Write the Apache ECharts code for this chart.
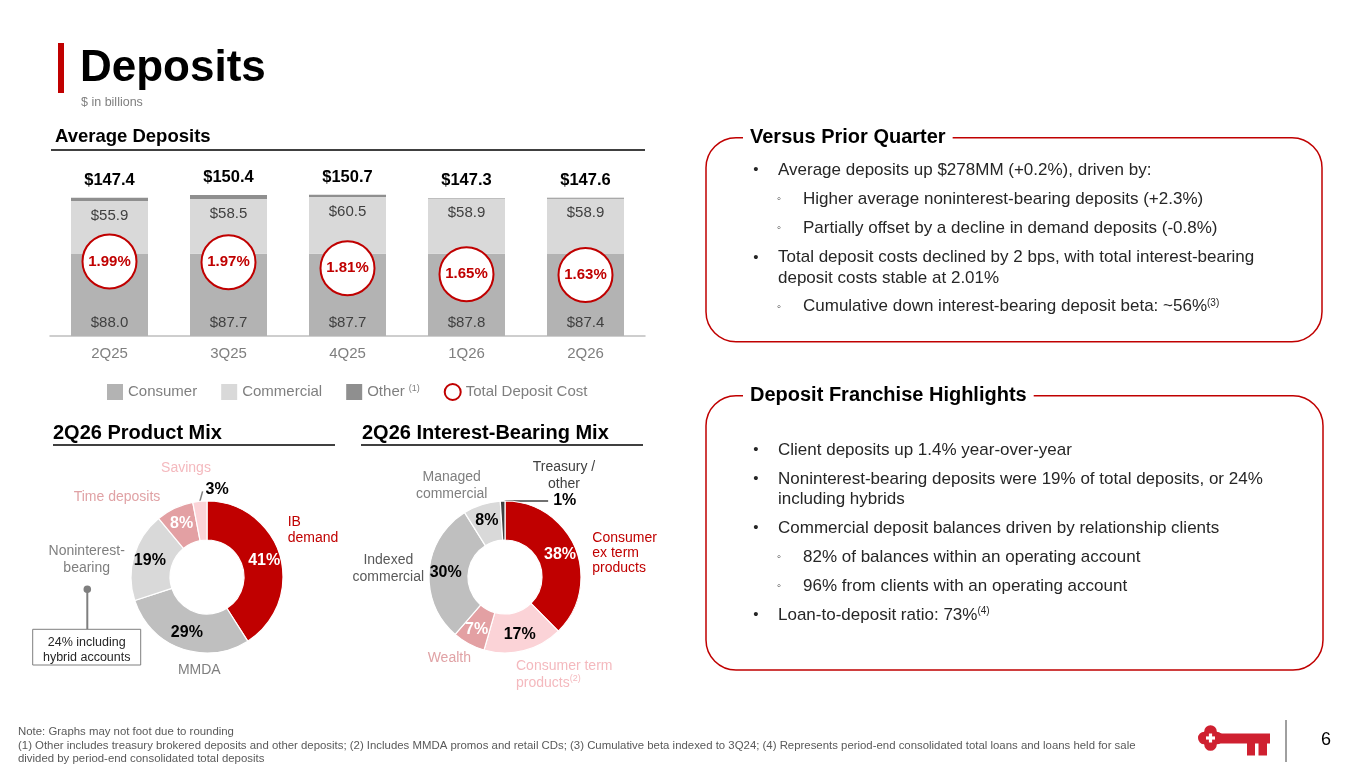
<!DOCTYPE html>
<html><head><meta charset="utf-8">
<script src="https://cdn.jsdelivr.net/npm/echarts@6/dist/echarts.min.js"></script>
<style>html,body{margin:0;padding:0;background:#fff}#c{width:1365px;height:768px}</style>
</head><body><div id="c"></div>
<script>
// ---- data ----
const quarters = ['2Q25', '3Q25', '4Q25', '1Q26', '2Q26'];
const consumer = [88.0, 87.7, 87.7, 87.8, 87.4];
const commercial = [55.9, 58.5, 60.5, 58.9, 58.9];
const other = [3.5, 4.2, 2.5, 0.6, 1.3];
const totals = [147.4, 150.4, 150.7, 147.3, 147.6];
const depositCost = [1.99, 1.97, 1.81, 1.65, 1.63];
const productMixNames = ['IB demand', 'MMDA', 'Noninterest-bearing', 'Time deposits', 'Savings'];
const productMixValues = [41, 29, 19, 8, 3];
const ibMixNames = ['Consumer ex term products', 'Consumer term products', 'Wealth', 'Indexed commercial', 'Managed commercial', 'Treasury / other'];
const ibMixValues = [38, 17, 7, 30, 8, 1];

// ---- styles ----
const F = "'Liberation Sans', Arial, Helvetica, sans-serif";
const RED = '#c00000';
const pmColors = ['#c00000', '#bfbfbf', '#d9d9d9', '#e3a0a3', '#fbd3d7'];
const pmLabel = ['#fff', '#000', '#000', '#fff', '#000'];
const ibColors = ['#c00000', '#fbd3d7', '#e3a0a3', '#bfbfbf', '#d9d9d9', '#404040'];
const ibLabel = ['#fff', '#000', '#fff', '#000', '#000', '#000'];

function pieData(names, values, colors, lbl, outsideIdx, lineColor) {
  return values.map((v, i) => {
    const d = { name: names[i], value: v, itemStyle: { color: colors[i] }, label: { color: lbl[i] } };
    if (i === outsideIdx) {
      d.label = { position: 'outside', color: '#000' };
      d.labelLine = { show: true, length: 12, length2: 0, lineStyle: { color: lineColor, width: 1.5 } };
    }
    return d;
  });
}

function T(x, y, text, o) {
  o = o || {};
  return {
    type: 'text', x: x, y: y, z: o.z || 10,
    style: Object.assign({
      text: text, fontFamily: F, fontSize: o.size || 14, fill: o.color || '#262626',
      fontWeight: o.bold ? 'bold' : 'normal', align: o.align || 'left', verticalAlign: 'middle',
      lineHeight: o.lh, rich: o.rich
    }, o.extra || {})
  };
}
function L(x1, y1, x2, y2, c, w) {
  return { type: 'line', z: 5, shape: { x1, y1, x2, y2 }, style: { stroke: c, lineWidth: w } };
}
function R(x, y, w, h, style, r) {
  return { type: 'rect', z: 5, shape: { x, y, width: w, height: h, r: r || 0 }, style: style };
}
const sup = { s: { fontSize: 10, fontFamily: F, verticalAlign: 'top', lineHeight: 12 } };

const g = [];
// title
g.push(R(58, 43, 6, 50, { fill: RED }));
g.push(T(80, 69, 'Deposits', { size: 44, bold: true, color: '#000' }));
g.push(T(81, 103, '$ in billions', { size: 12.5, color: '#7f7f7f' }));
// section headers
g.push(T(55, 137, 'Average Deposits', { size: 18.5, bold: true, color: '#000' }));
g.push(L(51, 150, 645, 150, '#000', 1.5));
g.push(T(53, 433, '2Q26 Product Mix', { size: 20, bold: true, color: '#000' }));
g.push(L(53, 445, 335, 445, '#000', 1.5));
g.push(T(362, 433, '2Q26 Interest-Bearing Mix', { size: 20, bold: true, color: '#000' }));
g.push(L(361, 445, 643, 445, '#000', 1.5));

// panels
g.push(R(706, 137.7, 616, 204, { fill: 'none', stroke: RED, lineWidth: 1.5 }, 30));
g.push(T(743, 137.7, 'Versus Prior Quarter', { size: 20, bold: true, color: '#000', extra: { backgroundColor: '#fff', padding: [2, 7, 2, 7] } }));
g.push(R(706, 395.7, 617, 274.3, { fill: 'none', stroke: RED, lineWidth: 1.5 }, 30));
g.push(T(743, 395.7, 'Deposit Franchise Highlights', { size: 20, bold: true, color: '#000', extra: { backgroundColor: '#fff', padding: [2, 7, 2, 7] } }));

function bullet(y, text, lvl) {
  if (lvl === 1) {
    g.push(T(756, y, '\u2022', { size: 15, align: 'center' }));
    g.push(T(778, y, text, { size: 17, rich: sup }));
  } else {
    g.push(T(779, y, '\u25E6', { size: 11, align: 'center' }));
    g.push(T(803, y, text, { size: 17, rich: sup }));
  }
}
bullet(170, 'Average deposits up $278MM (+0.2%), driven by:', 1);
bullet(199, 'Higher average noninterest-bearing deposits (+2.3%)', 2);
bullet(228.3, 'Partially offset by a decline in demand deposits (-0.8%)', 2);
bullet(257.7, 'Total deposit costs declined by 2 bps, with total interest-bearing', 1);
g.push(T(778, 278.3, 'deposit costs stable at 2.01%', { size: 17 }));
bullet(306.7, 'Cumulative down interest-bearing deposit beta: ~56%{s|(3)}', 2);

bullet(450, 'Client deposits up 1.4% year-over-year', 1);
bullet(479, 'Noninterest-bearing deposits were 19% of total deposits, or 24%', 1);
g.push(T(778, 499.5, 'including hybrids', { size: 17 }));
bullet(528.3, 'Commercial deposit balances driven by relationship clients', 1);
bullet(557.3, '82% of balances within an operating account', 2);
bullet(586, '96% from clients with an operating account', 2);
bullet(615, 'Loan-to-deposit ratio: 73%{s|(4)}', 1);

// donut 1 names
g.push(T(186, 468.3, 'Savings', { color: '#f4b9be', align: 'center' }));
g.push(T(117, 497.3, 'Time deposits', { color: '#e0a2a5', align: 'center' }));
g.push(T(86.7, 559.2, 'Noninterest-\nbearing', { color: '#7f7f7f', align: 'center', lh: 17 }));
g.push(T(287.7, 530, 'IB\ndemand', { color: RED, lh: 16.7 }));
g.push(T(199.3, 670, 'MMDA', { color: '#7f7f7f', align: 'center' }));
// callout
g.push({ type: 'circle', z: 6, shape: { cx: 87.3, cy: 589.3, r: 3.8 }, style: { fill: '#7f7f7f' } });
g.push(L(87.3, 589.3, 87.3, 629.3, '#7f7f7f', 2));
g.push(R(32.7, 629.3, 108, 35.7, { fill: '#fff', stroke: '#7f7f7f', lineWidth: 1 }));
g.push(T(86.7, 642.7, '24% including', { size: 12.5, align: 'center' }));
g.push(T(86.7, 658, 'hybrid accounts', { size: 12.5, align: 'center' }));

// donut 2 names
g.push(T(451.7, 485.7, 'Managed\ncommercial', { color: '#7f7f7f', align: 'center', lh: 16.7 }));
g.push(T(564, 475.7, 'Treasury /\nother', { color: '#404040', align: 'center', lh: 16.7 }));
g.push(T(592.3, 553, 'Consumer\nex term\nproducts', { color: RED, lh: 14.7 }));
g.push(T(388.3, 568.3, 'Indexed\ncommercial', { color: '#595959', align: 'center', lh: 16.7 }));
g.push(T(449.3, 658.3, 'Wealth', { color: '#e0a2a5', align: 'center' }));
g.push(T(516, 674.3, 'Consumer term\nproducts{s|(2)}', { color: '#f4b9be', lh: 16.7, rich: { s: { fontSize: 9, fontFamily: F, fill: '#f4b9be', verticalAlign: 'top', lineHeight: 12 } } }));

// footer
g.push({ type: 'text', x: 18, y: 725.5, z: 10, style: { text: 'Note: Graphs may not foot due to rounding\n(1) Other includes treasury brokered deposits and other deposits; (2) Includes MMDA promos and retail CDs; (3) Cumulative beta indexed to 3Q24; (4) Represents period-end consolidated total loans and loans held for sale\ndivided by period-end consolidated total deposits', fontFamily: F, fontSize: 11.4, fill: '#595959', lineHeight: 13.3, verticalAlign: 'top' } });
// logo
const KR = '#cf2030';
const kc = [1210.5, 738];
[[0, -6.5], [0, 6.5], [-6.2, 0], [6.2, 0]].forEach(p => g.push({ type: 'circle', z: 6, shape: { cx: kc[0] + p[0], cy: kc[1] + p[1], r: 6.3 }, style: { fill: KR } }));
g.push({ type: 'circle', z: 6, shape: { cx: kc[0], cy: kc[1], r: 8 }, style: { fill: KR } });
g.push(R(1217, 733.5, 53, 10, { fill: KR }));
g.push(R(1247, 742, 8, 13.5, { fill: KR }));
g.push(R(1258.5, 742, 8.5, 13.5, { fill: KR }));
g.push({ type: 'rect', z: 7, shape: { x: kc[0] - 1.6, y: kc[1] - 4.5, width: 3.2, height: 9 }, style: { fill: '#fff' } });
g.push({ type: 'rect', z: 7, shape: { x: kc[0] - 4.5, y: kc[1] - 1.6, width: 9, height: 3.2 }, style: { fill: '#fff' } });
g.push(L(1286, 720, 1286, 762, '#404040', 1));
g.push(T(1326, 740, '6', { size: 18, color: '#000', align: 'center' }));

const chart = echarts.init(document.getElementById('c'), null, { renderer: 'canvas' });
chart.setOption({
  animation: false,
  backgroundColor: '#fff',
  textStyle: { fontFamily: F },
  grid: { left: 50, right: 720, top: 186, bottom: 432, containLabel: false },
  xAxis: {
    type: 'category', data: quarters,
    axisLine: { lineStyle: { color: '#bfbfbf', width: 1.5 } },
    axisTick: { show: false },
    axisLabel: { color: '#7f7f7f', fontSize: 15, margin: 10, fontFamily: F }
  },
  yAxis: [
    { type: 'value', min: 0, max: 160, show: false, splitLine: { show: false } },
    { type: 'value', min: 0, max: 4, show: false, splitLine: { show: false } }
  ],
  legend: {
    left: 102, top: 378, itemWidth: 16, itemHeight: 16, itemGap: 24, selectedMode: false,
    data: [{ name: 'Consumer', icon: 'rect' }, { name: 'Commercial', icon: 'rect' }, { name: 'Other', icon: 'rect' }, { name: 'Total Deposit Cost', icon: 'circle' }],
    formatter: n => n === 'Other' ? 'Other{s|(1)}' : n,
    textStyle: { fontSize: 15, color: '#7f7f7f', fontFamily: F, rich: { s: { fontSize: 9, color: '#7f7f7f', fontFamily: F, verticalAlign: 'top', padding: [0, 0, 0, 4] } } }
  },
  series: [
    {
      name: 'Consumer', type: 'bar', stack: 'd', data: consumer, barWidth: 77,
      itemStyle: { color: '#b3b3b3' },
      label: { show: true, position: 'insideBottom', distance: 6, formatter: p => '$' + p.value.toFixed(1), fontSize: 15, color: '#404040', fontFamily: F },
      emphasis: { disabled: true }
    },
    {
      name: 'Commercial', type: 'bar', stack: 'd', data: commercial, barWidth: 77,
      itemStyle: { color: '#d9d9d9' },
      label: { show: true, position: 'insideTop', distance: 7, formatter: p => '$' + p.value.toFixed(1), fontSize: 15, color: '#404040', fontFamily: F },
      emphasis: { disabled: true }
    },
    {
      name: 'Other', type: 'bar', stack: 'd', data: other, barWidth: 77,
      itemStyle: { color: '#8f8f8f' },
      label: { show: true, position: 'top', distance: 9, formatter: p => '$' + totals[p.dataIndex].toFixed(1), fontSize: 16.5, fontWeight: 'bold', color: '#000', fontFamily: F },
      emphasis: { disabled: true }
    },
    {
      name: 'Total Deposit Cost', type: 'scatter', yAxisIndex: 1, data: depositCost, symbol: 'circle', symbolSize: 54, z: 5,
      itemStyle: { color: '#fff', borderColor: RED, borderWidth: 2, opacity: 1 },
      label: { show: true, position: 'inside', formatter: p => p.value.toFixed(2) + '%', fontSize: 15, fontWeight: 'bold', color: RED, fontFamily: F },
      emphasis: { disabled: true }
    },
    {
      name: 'Product Mix', type: 'pie', center: [207, 577], radius: [37, 76], startAngle: 90, clockwise: true,
      avoidLabelOverlap: false, silent: true,
      itemStyle: { borderColor: '#fff', borderWidth: 1.2 },
      label: { show: true, position: 'inside', formatter: '{c}%', fontSize: 16, fontWeight: 'bold', fontFamily: F },
      labelLayout: p => {
        if (p.dataIndex !== 4) return {};
        const r = p.labelRect, p0 = p.labelLinePoints ? p.labelLinePoints[0] : [r.x + r.width, r.y + r.height];
        const nx = r.x + 35, cy = r.y + r.height / 2;
        return { x: nx, y: cy, align: 'left', verticalAlign: 'middle', labelLinePoints: [p0, [nx - 3, cy + 2]] };
      },
      data: pieData(productMixNames, productMixValues, pmColors, pmLabel, 4, '#7f7f7f')
    },
    {
      name: 'Interest-Bearing Mix', type: 'pie', center: [505, 577], radius: [37, 76], startAngle: 90, clockwise: true,
      avoidLabelOverlap: false, silent: true,
      itemStyle: { borderColor: '#fff', borderWidth: 1.2 },
      label: { show: true, position: 'inside', formatter: '{c}%', fontSize: 16, fontWeight: 'bold', fontFamily: F },
      labelLayout: p => {
        if (p.dataIndex !== 5) return {};
        const r = p.labelRect, p0 = p.labelLinePoints ? p.labelLinePoints[0] : [r.x + r.width, r.y + r.height];
        const nx = r.x + 79, cy = p0[1];
        return { x: nx, y: cy, align: 'left', verticalAlign: 'middle', labelLinePoints: [[p0[0] + 2, cy], [nx - 5, cy]] };
      },
      data: pieData(ibMixNames, ibMixValues, ibColors, ibLabel, 5, '#404040')
    }
  ],
  graphic: { elements: g }
});
</script></body></html>
